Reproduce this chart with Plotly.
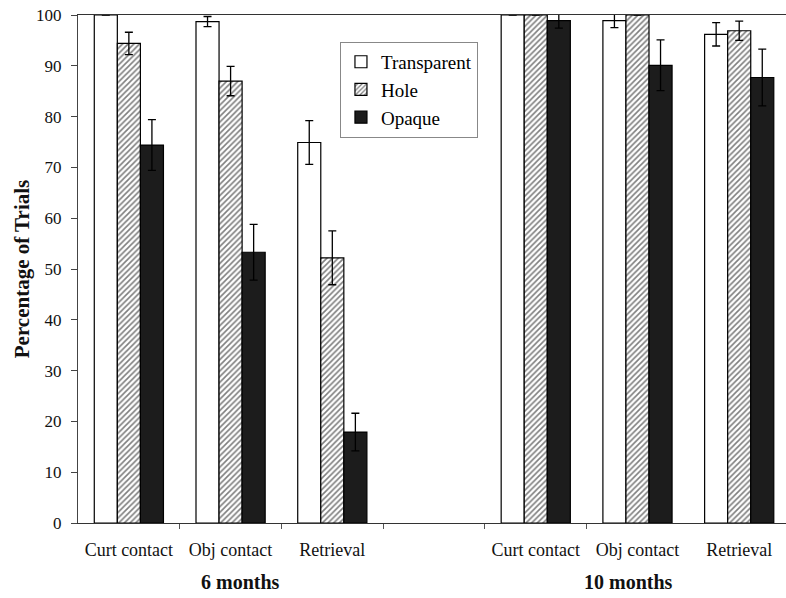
import plotly.graph_objects as go

# ---- data ----
categories = ["Curt contact", "Obj contact", "Retrieval"]
ages = ["6 months", "10 months"]

transparent_6 = [100.0, 98.7, 74.9]
transparent_10 = [100.0, 98.9, 96.2]
transparent_err_6 = [0.0, 1.0, 4.3]
transparent_err_10 = [0.0, 1.4, 2.3]

hole_6 = [94.4, 87.0, 52.2]
hole_10 = [100.0, 100.0, 96.9]
hole_err_6 = [2.2, 2.9, 5.3]
hole_err_10 = [0.0, 0.0, 1.9]

opaque_6 = [74.4, 53.3, 17.9]
opaque_10 = [98.9, 90.1, 87.7]
opaque_err_6 = [5.0, 5.5, 3.7]
opaque_err_10 = [1.5, 5.0, 5.6]

# ---- layout of category slots (two groups with an empty slot between) ----
x_pos = list(range(len(categories))) + [i + len(categories) + 1 for i in range(len(categories))]
tick_text = categories * len(ages)

FONT = "Liberation Serif, Times New Roman, serif"
LINE_W = 1.2

fig = go.Figure()

series = [
    ("Transparent", transparent_6 + transparent_10, transparent_err_6 + transparent_err_10,
     dict(color="white", line=dict(color="black", width=LINE_W))),
    ("Hole", hole_6 + hole_10, hole_err_6 + hole_err_10,
     dict(color="white", line=dict(color="black", width=LINE_W),
          pattern=dict(shape="/", fgcolor="black", bgcolor="white", size=4, solidity=0.4))),
    ("Opaque", opaque_6 + opaque_10, opaque_err_6 + opaque_err_10,
     dict(color="#1c1c1c", line=dict(color="black", width=LINE_W))),
]

for name, vals, errs, marker in series:
    fig.add_trace(go.Bar(
        name=name, x=x_pos, y=vals, marker=marker, legendgroup=name,
        error_y=dict(type="data", array=errs, visible=True, color="black",
                     thickness=1.3, width=4),
    ))

# invisible trace to host the boundary-tick axis
fig.add_trace(go.Scatter(x=[], y=[], xaxis="x2", showlegend=False, hoverinfo="skip"))

boundaries = [p + 0.5 for p in range(len(x_pos))][:-1]
xrange = [-0.5, 6.46]

fig.update_layout(
    width=786, height=598,
    margin=dict(l=78, r=0, t=15, b=75),
    paper_bgcolor="white", plot_bgcolor="white",
    barmode="group", bargap=0.32, bargroupgap=0,
    font=dict(family=FONT, color="black", size=17),
    showlegend=True,
    legend=dict(
        x=0.37, y=0.947, xanchor="left", yanchor="top",
        bgcolor="white", bordercolor="#888", borderwidth=1,
        font=dict(family=FONT, size=19, color="black"),
        traceorder="grouped", tracegroupgap=0,
        itemwidth=30,
    ),
    xaxis=dict(
        range=xrange, tickmode="array", tickvals=x_pos, ticktext=tick_text,
        ticks="", showgrid=False, zeroline=False,
        showline=True, linecolor="#333", linewidth=1, mirror=True,
        tickfont=dict(family=FONT, size=18, color="#111"),
        ticklabelstandoff=10,
    ),
    xaxis2=dict(
        range=xrange, overlaying="x", anchor="y", side="bottom",
        tickmode="array", tickvals=boundaries, ticks="outside", ticklen=5,
        tickcolor="#555", showticklabels=False, showgrid=False,
        zeroline=False, showline=False,
    ),
    yaxis=dict(
        range=[0, 100], tickmode="linear", dtick=10, tick0=0,
        ticks="outside", ticklen=6, tickcolor="#444",
        showgrid=False, zeroline=False, showline=True, linecolor="#444", linewidth=1,
        tickfont=dict(family=FONT, size=17, color="#111"),
        ticklabelstandoff=6,
        title=dict(text="<b>Percentage of Trials</b>", font=dict(family=FONT, size=21, color="#111"),
                   standoff=0),
    ),
)

group_x = [0.230, 0.777]
for label, gx in zip(ages, group_x):
    fig.add_annotation(text=f"<b>{label}</b>", xref="paper", yref="paper",
                       x=gx, y=-0.116, xanchor="center", yanchor="middle",
                       showarrow=False, font=dict(family=FONT, size=20, color="#111"))

fig.write_html("out.html", config={"displayModeBar": False},
               post_script="document.body.style.margin='0';document.body.style.overflow='hidden';")
